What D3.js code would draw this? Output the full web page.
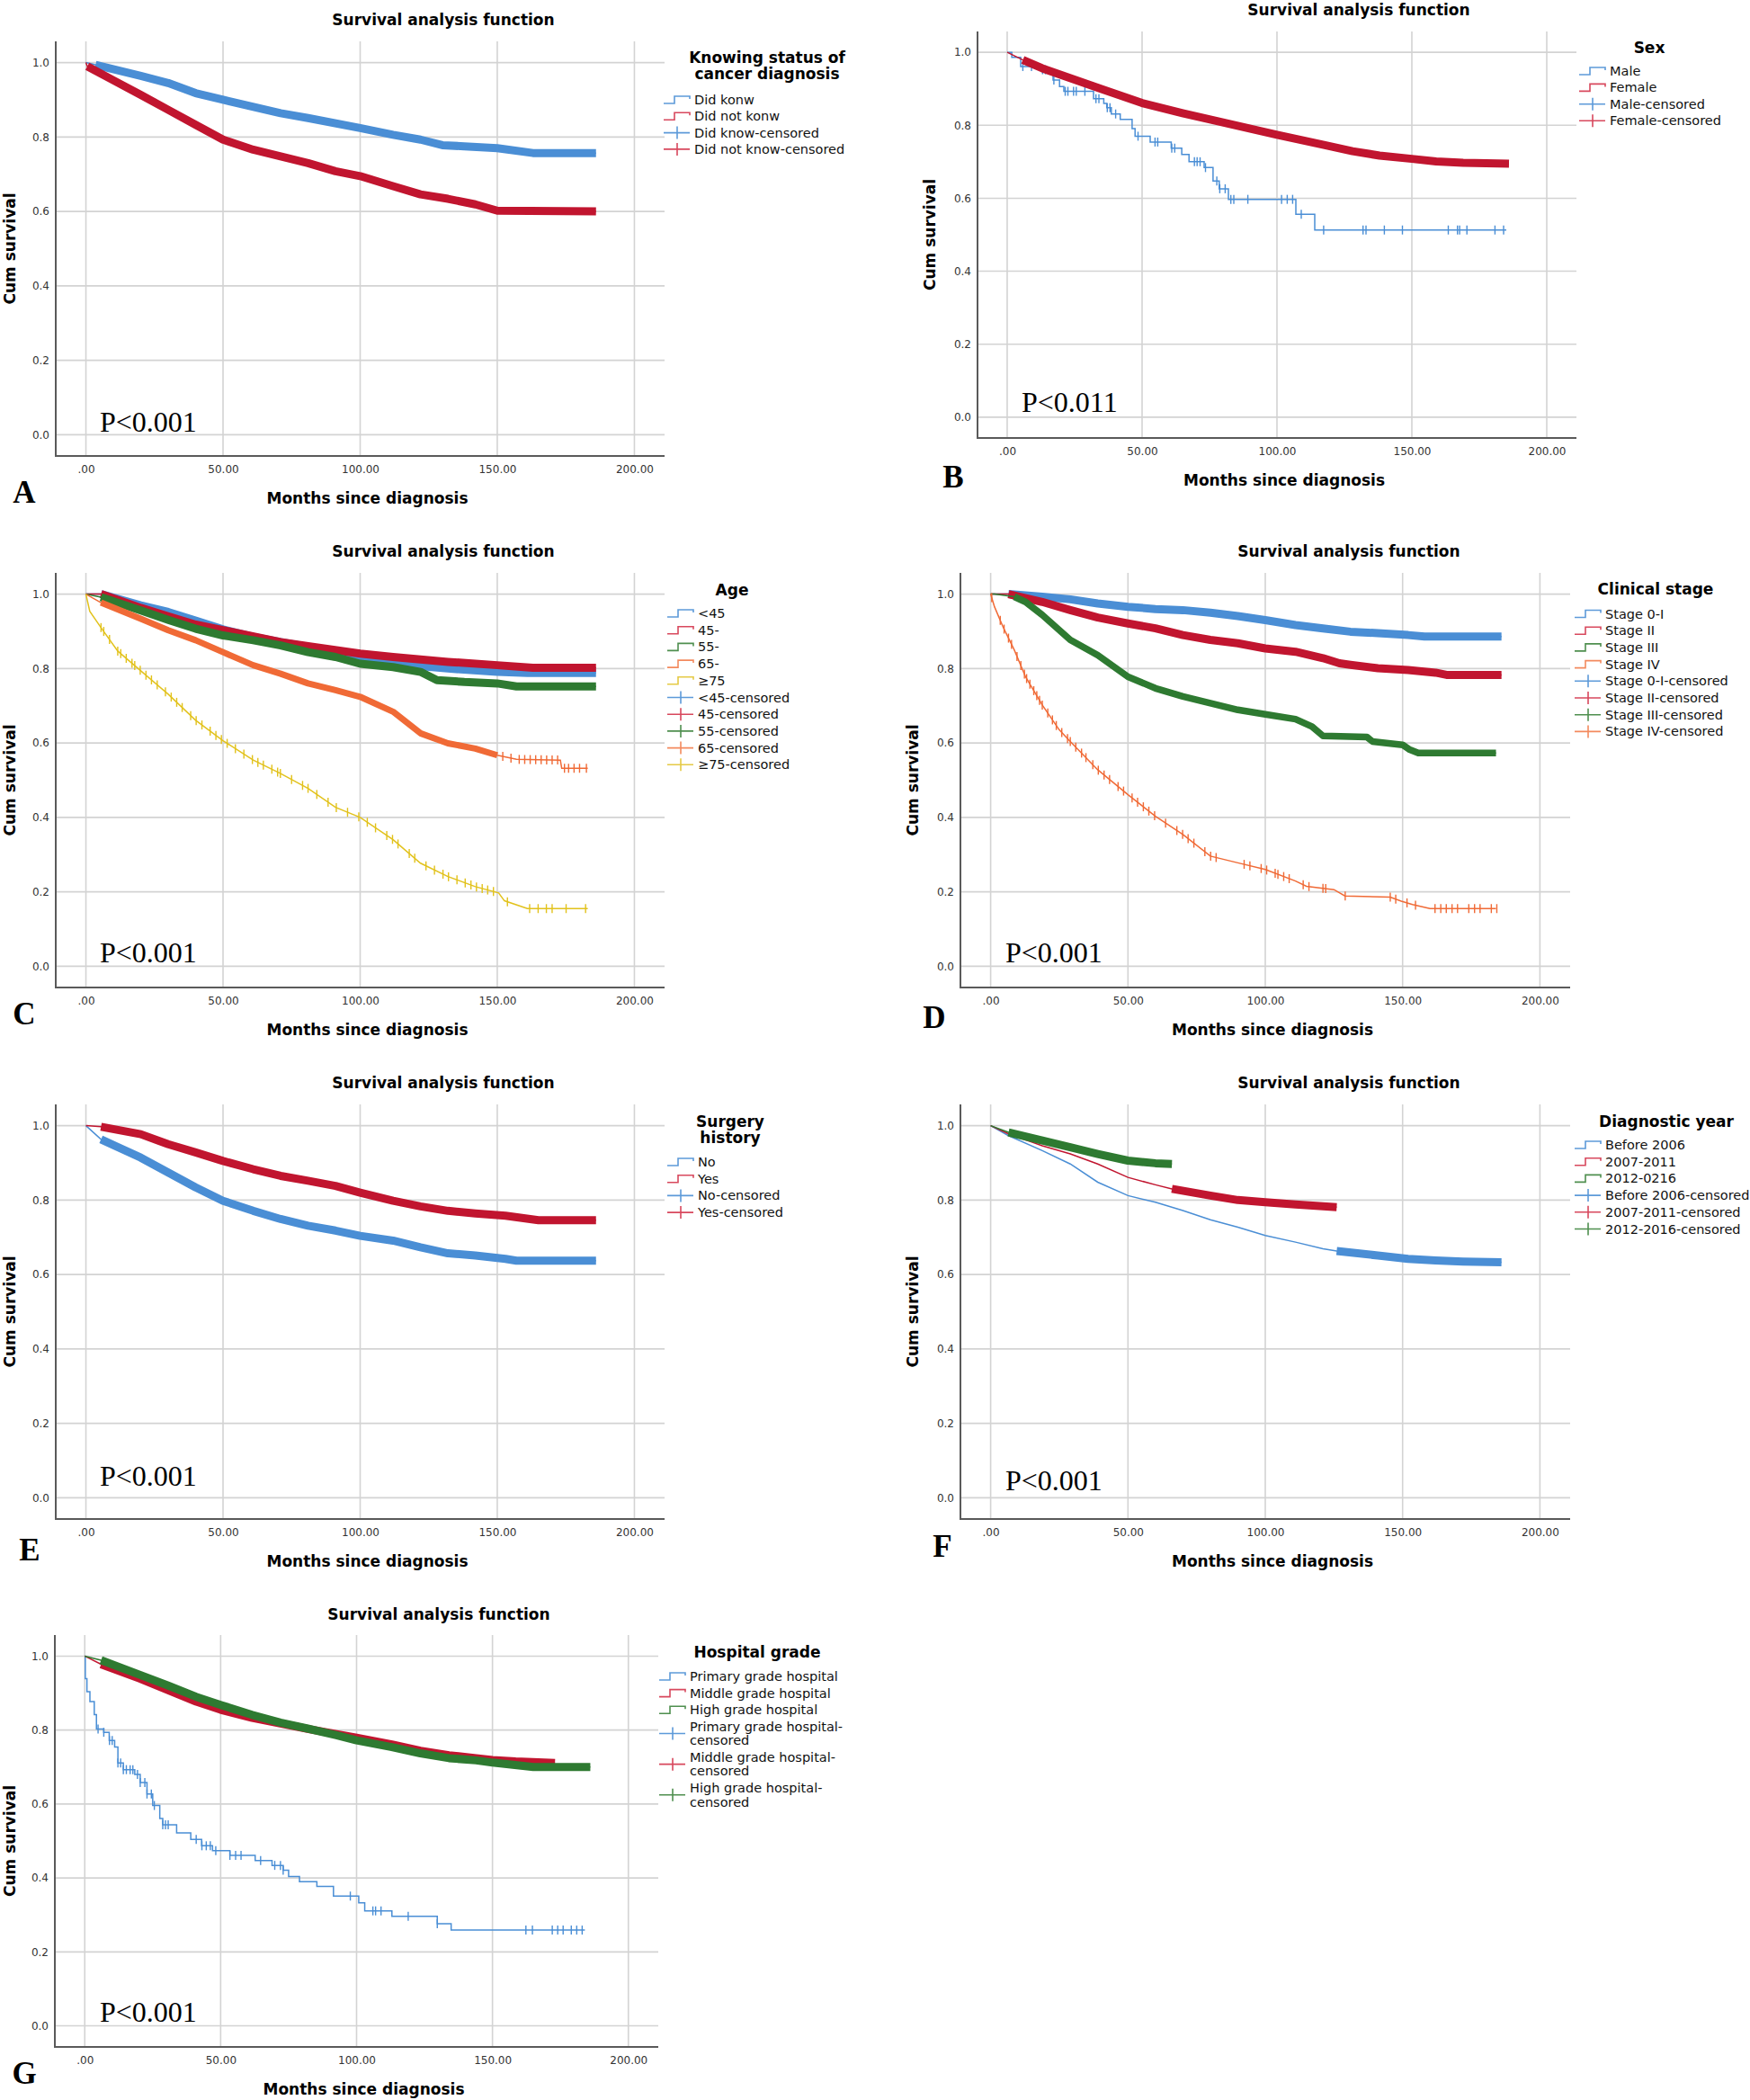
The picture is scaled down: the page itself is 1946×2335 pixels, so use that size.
<!DOCTYPE html>
<html><head><meta charset="utf-8">
<script src="https://cdn.jsdelivr.net/npm/d3@7"></script>
<style>body{margin:0;background:#fff} svg{display:block}</style>
</head><body><svg id="c" width="1946" height="2335" font-family="DejaVu Sans, sans-serif"></svg>
<script>
// ---------- ticks ----------
const xTickValues = [0, 50, 100, 150, 200];
const xTickLabels = [".00", "50.00", "100.00", "150.00", "200.00"];
const yTickValues = [0, 0.2, 0.4, 0.6, 0.8, 1.0];
const yTickLabels = ["0.0", "0.2", "0.4", "0.6", "0.8", "1.0"];

// ---------- panel A : knowing status ----------
const A_didKnow = [[0,1],[3.5,0.994],[20,0.964],[30,0.945],[40,0.918],[50,0.9],[71,0.864],[81,0.851],[100,0.824],[112,0.806],[122,0.793],[130,0.778],[138,0.775],[150,0.77],[163,0.757],[186,0.757]];
const A_didNotKnow = [[0,1],[0.5,0.99],[9.6,0.954],[20,0.913],[30,0.873],[40,0.833],[50,0.793],[61,0.766],[71,0.748],[81,0.73],[91,0.708],[100,0.695],[112,0.668],[122,0.646],[132,0.634],[142,0.619],[150,0.602],[186,0.6]];
const A_legend = ["Did konw", "Did not konw", "Did know-censored", "Did not know-censored"];

// ---------- panel B : sex ----------
const B_male = [[0,1],[1.7,0.986],[5,0.961],[13,0.952],[17,0.924],[19.4,0.906],[21,0.893],[32,0.873],[35.8,0.86],[36.9,0.848],[38.6,0.831],[41.9,0.816],[46.3,0.791],[47.4,0.77],[53,0.754],[60.8,0.737],[64.7,0.72],[67.4,0.70],[73,0.684],[76.3,0.647],[78.6,0.626],[82,0.597],[107,0.556],[114,0.513],[185,0.513]];
const B_maleCensor = [5.8,9,13.1,14.2,17.3,21.5,22.5,24.6,25.6,28.8,32.9,34,37.1,38.1,40.2,48.5,54.8,55.8,61,62.1,69.4,70.4,71.5,73.5,77.7,78.8,80.8,82.9,84,89.2,101.7,103.8,105.8,109,117.3,131.9,133,139.8,146.5,163.5,166.9,167.7,170.4,180.8,184];
const B_female = [[0,1],[5.8,0.979],[13,0.956],[23.5,0.929],[34,0.902],[50,0.861],[65,0.833],[75.6,0.815],[100,0.774],[117,0.747],[128,0.729],[138,0.717],[150,0.708],[159,0.701],[169,0.697],[186,0.695]];
const B_legend = ["Male", "Female", "Male-censored", "Female-censored"];

// ---------- panel C : age ----------
const C_lt45 = [[0,1],[5.5,1.0],[20,0.970],[30,0.952],[40,0.929],[50,0.905],[61,0.885],[71,0.871],[81,0.858],[100,0.831],[112,0.813],[132,0.8],[150,0.791],[161,0.788],[186,0.788]];
const C_45 = [[0,1],[5.5,1.0],[20,0.963],[30,0.94],[40,0.918],[50,0.903],[71,0.871],[81,0.86],[100,0.84],[112,0.831],[132,0.818],[150,0.809],[163,0.802],[186,0.802]];
const C_55 = [[0,1],[5.5,0.992],[20,0.956],[30,0.931],[40,0.907],[50,0.889],[61,0.876],[71,0.862],[81,0.844],[91,0.831],[100,0.813],[112,0.804],[122,0.791],[128,0.769],[138,0.764],[150,0.76],[157,0.752],[186,0.752]];
const C_65 = [[0,1],[5.5,0.977],[20,0.934],[30,0.903],[40,0.876],[50,0.844],[61,0.809],[71,0.786],[81,0.76],[91,0.742],[100,0.724],[112,0.684],[122,0.626],[132,0.599],[142,0.585],[150,0.567],[157,0.556],[173,0.554],[173.5,0.532],[183,0.532]];
const C_65TailCensor = [152,155,158,160,162,164,166,168,170,172,174.5,176,178,180,182.5];
const C_ge75 = [[0,1],[1.4,0.954],[5.5,0.91],[11.6,0.847],[20,0.794],[30,0.731],[40,0.661],[50,0.606],[61,0.554],[71,0.518],[81,0.478],[91,0.427],[100,0.4],[112,0.34],[122,0.277],[132,0.241],[142,0.214],[150.5,0.197],[152.6,0.176],[161,0.155],[183,0.155]];
const C_ge75Censor = [5.5,6.5,8.6,11.6,12.7,14.7,16.8,17.8,19.8,21.9,23.9,26,29,31.1,33.1,35.1,38.2,40.2,42.3,45.3,47.4,49.4,51.5,54.5,57.6,60.7,62.7,64.7,67.8,69.9,70.9,75,79,81,84.2,88.3,91.3,95.4,99.5,102.6,105.6,109.7,111.8,113.8,117.9,119.9,124,127.1,130.2,132.2,135.3,138.3,140.4,142.4,144.5,146.5,148.6,153.7,161.8,164.9,167.9,170,175.1,182.2];
const C_legend = ["<45", "45-", "55-", "65-", "\u226575", "<45-censored", "45-censored", "55-censored", "65-censored", "\u226575-censored"];

// ---------- panel D : clinical stage ----------
const D_s1 = [[0,1],[6.5,1.0],[18.8,0.993],[29,0.986],[39,0.975],[50,0.966],[60,0.96],[70,0.957],[80,0.95],[90,0.941],[100,0.93],[111,0.917],[121,0.908],[131,0.899],[141,0.895],[152,0.89],[158,0.886],[186,0.886]];
const D_s2 = [[0,1],[6.5,1.0],[18.8,0.979],[29,0.957],[39,0.937],[50,0.921],[60,0.908],[70,0.89],[80,0.877],[90,0.868],[100,0.854],[111,0.845],[121,0.828],[127,0.814],[131,0.81],[141,0.801],[152,0.796],[162,0.789],[166,0.783],[186,0.783]];
const D_s3 = [[0,1],[1.4,1.0],[8.6,0.993],[12.7,0.979],[18.8,0.944],[29,0.877],[39,0.836],[50,0.778],[60,0.747],[70,0.725],[80,0.707],[90,0.689],[100,0.677],[111,0.664],[117,0.644],[121,0.619],[137,0.616],[139,0.604],[150,0.595],[152.6,0.582],[155.7,0.573],[184,0.573]];
const D_s4 = [[0,1],[1.4,0.966],[4.5,0.912],[8.6,0.85],[12.7,0.778],[18.8,0.702],[25,0.635],[29,0.604],[39,0.528],[50,0.461],[60,0.403],[70,0.354],[80,0.296],[90,0.278],[100,0.26],[111,0.229],[115,0.215],[125,0.206],[129,0.189],[145.5,0.186],[149.5,0.175],[153.6,0.166],[160,0.155],[184,0.155]];
const D_s4Censor = [0.4,3.5,4.9,6.5,7.6,9.6,11,12.3,13.1,14.3,15.7,16.8,17.8,18.8,20.8,22.5,23.9,25.9,28,29,31,33.1,34.7,37.2,39.2,41.3,43.3,46.4,48.4,51.5,53.5,55.6,57.6,59.7,63.7,67.8,69.9,71.9,74,78,80.1,82.1,92.3,94.4,98.5,100.5,103.6,104.6,106.7,108.7,113.8,115.9,121,122,129.1,145.5,147.5,151.6,154.7,161.8,163.9,165.9,168,170,174.1,176.2,178.2,182.3,184.3];
const D_legend = ["Stage 0-I", "Stage II", "Stage III", "Stage IV", "Stage 0-I-censored", "Stage II-censored", "Stage III-censored", "Stage IV-censored"];

// ---------- panel E : surgery ----------
const E_no = [[0,1],[5.5,0.963],[20,0.914],[30,0.874],[40,0.834],[50,0.798],[61,0.771],[71,0.749],[81,0.731],[91,0.718],[100,0.704],[112,0.691],[122,0.673],[132,0.657],[142,0.651],[153,0.642],[157,0.637],[186,0.637]];
const E_yes = [[0,1],[5.5,0.997],[20,0.977],[30,0.95],[40,0.928],[50,0.905],[61,0.883],[71,0.865],[81,0.852],[91,0.838],[100,0.82],[112,0.798],[122,0.783],[132,0.771],[142,0.764],[153,0.758],[165,0.746],[186,0.746]];
const E_legend = ["No", "Yes", "No-censored", "Yes-censored"];

// ---------- panel F : diagnostic year ----------
const F_before2006 = [[0,1],[6.5,0.973],[18.8,0.933],[29,0.897],[39,0.848],[50,0.812],[60,0.794],[70,0.772],[80,0.747],[90,0.727],[100,0.705],[111,0.687],[121,0.669],[126,0.663],[141,0.651],[152,0.642],[162,0.638],[172,0.635],[186,0.633]];
const F_2007_2011 = [[0,1],[6.5,0.978],[18.8,0.946],[29,0.924],[39,0.897],[50,0.861],[60,0.841],[66,0.83],[80,0.812],[90,0.8],[100,0.794],[111,0.788],[126,0.781]];
const F_2012_2016 = [[0,1],[6.5,0.982],[18.8,0.96],[29,0.942],[39,0.924],[50,0.906],[60,0.899],[66,0.897]];
const F_legend = ["Before 2006", "2007-2011", "2012-0216", "Before 2006-censored", "2007-2011-censored", "2012-2016-censored"];

// ---------- panel G : hospital grade ----------
const G_primary = [[0,1],[0.2,0.939],[0.8,0.904],[1.9,0.877],[3.5,0.842],[4.3,0.803],[7,0.794],[9,0.772],[11,0.754],[12.2,0.711],[14.2,0.693],[18.4,0.68],[20.4,0.658],[22.9,0.627],[25,0.596],[27.6,0.561],[28.7,0.544],[33.8,0.522],[39,0.504],[43,0.487],[47,0.474],[53.4,0.461],[62.7,0.447],[68.9,0.434],[73,0.421],[75,0.404],[79,0.39],[85.4,0.377],[91.5,0.351],[100.8,0.333],[103,0.311],[113,0.296],[129.7,0.276],[134.8,0.259],[184,0.259]];
const G_primaryCensor = [4.9,7,9.1,10.1,12.2,13.2,14.2,15.3,16.7,17.7,19.4,20.4,22.1,22.9,24.5,25.6,28.7,29.7,30.7,41,43.1,44.7,46.2,48.2,53.4,55.5,57.5,64.7,69.9,72,73,97.7,106,107,109,119,129.7,162.3,164.7,172,174,176,179,181,183];
const G_middle = [[0,1],[6,0.978],[20.4,0.939],[30.7,0.908],[41,0.877],[50,0.855],[61.6,0.833],[72,0.818],[82,0.803],[92.6,0.789],[100,0.779],[113,0.761],[123.5,0.744],[134,0.732],[144,0.724],[150,0.719],[158.5,0.715],[173,0.711]];
const G_high = [[0,1],[6,0.989],[20.4,0.949],[30.7,0.92],[41,0.89],[50,0.868],[61.6,0.841],[72,0.82],[82,0.804],[92.6,0.786],[100,0.772],[113,0.754],[123.5,0.737],[134,0.724],[144,0.718],[150,0.712],[165,0.7],[186,0.7]];
const G_legend = ["Primary grade hospital", "Middle grade hospital", "High grade hospital", "Primary grade hospital-\ncensored", "Middle grade hospital-\ncensored", "High grade hospital-\ncensored"];

// ---------- styles ----------
const COL = {blue:"#4a8ed5", red:"#c1152f", green:"#2e7a31", orange:"#f06a36", yellow:"#e2c21c"};
const ICON = {blue:"#5d9ad9", red:"#d8485d", green:"#4f8f4f", orange:"#f38a5e", yellow:"#e5ca45"};
const SERIF = "Liberation Serif, Times New Roman, serif";

const panels = [
  {letter:"A", frame:{l:62,r:739,t:46,b:507}, title:{x:493,y:22}, legTitle:["Knowing status of","cancer diagnosis"],
   leg:{tx:853, ty:64, sx:738, y0:111, dy:18.3}, labels:A_legend, p:"P<0.001", pPos:{x:111,y:480}, lPos:{x:27,y:559},
   series:[{d:A_didKnow,c:"blue",band:3.5},{d:A_didNotKnow,c:"red",band:0.5}]},
  {letter:"B", frame:{l:1087,r:1753,t:35,b:487}, title:{x:1511,y:11}, legTitle:["Sex"],
   leg:{tx:1834, ty:53, sx:1756, y0:79, dy:18.4}, labels:B_legend, p:"P<0.011", pPos:{x:1136,y:458}, lPos:{x:1060,y:542},
   series:[{d:B_male,c:"blue",step:true,censor:B_maleCensor},{d:B_female,c:"red",band:5.8}]},
  {letter:"C", frame:{l:62,r:739,t:637,b:1098}, title:{x:493,y:613}, legTitle:["Age"],
   leg:{tx:814, ty:656, sx:742, y0:682, dy:18.7}, labels:C_legend, p:"P<0.001", pPos:{x:111,y:1070}, lPos:{x:27,y:1139},
   series:[{d:C_lt45,c:"blue",band:5.5},{d:C_45,c:"red",band:5.5},{d:C_55,c:"green",band:5.5},
           {d:C_65,c:"orange",band:5.5,bandEnd:150,bw:7,censor:C_65TailCensor},
           {d:C_ge75,c:"yellow",censor:C_ge75Censor}]},
  {letter:"D", frame:{l:1068,r:1746,t:637,b:1098}, title:{x:1500,y:613}, legTitle:["Clinical stage"],
   leg:{tx:1841, ty:655, sx:1751, y0:682.5, dy:18.7}, labels:D_legend, p:"P<0.001", pPos:{x:1118,y:1070}, lPos:{x:1039,y:1143},
   series:[{d:D_s1,c:"blue",band:6.5},{d:D_s2,c:"red",band:6.5},{d:D_s3,c:"green",band:8.6,bw:7.5},
           {d:D_s4,c:"orange",censor:D_s4Censor}]},
  {letter:"E", frame:{l:62,r:739,t:1228,b:1689}, title:{x:493,y:1204}, legTitle:["Surgery","history"],
   leg:{tx:812, ty:1247, sx:742, y0:1292, dy:18.7}, labels:E_legend, p:"P<0.001", pPos:{x:111,y:1652}, lPos:{x:33,y:1735},
   series:[{d:E_no,c:"blue",band:5.5},{d:E_yes,c:"red",band:5.5}]},
  {letter:"F", frame:{l:1068,r:1746,t:1228,b:1689}, title:{x:1500,y:1204}, legTitle:["Diagnostic year"],
   leg:{tx:1853, ty:1247, sx:1751, y0:1273, dy:18.7}, labels:F_legend, p:"P<0.001", pPos:{x:1118,y:1657}, lPos:{x:1048,y:1731},
   series:[{d:F_before2006,c:"blue",band:126},{d:F_2007_2011,c:"red",band:66},{d:F_2012_2016,c:"green",band:6.5}]},
  {letter:"G", frame:{l:61,r:732,t:1818,b:2276}, title:{x:488,y:1795}, legTitle:["Hospital grade"],
   leg:{tx:842, ty:1837, sx:733, y0:1864, dy:18.6}, labels:G_legend, p:"P<0.001", pPos:{x:111,y:2248}, lPos:{x:27,y:2317},
   series:[{d:G_primary,c:"blue",step:true,censor:G_primaryCensor},{d:G_middle,c:"red",band:6},{d:G_high,c:"green",band:6}]}
];

const svg = d3.select("#c");
svg.append("rect").attr("width",1946).attr("height",2335).attr("fill","#fff");

// value of the drawn curve at time t (step or linear, matching how the line is drawn)
function valueAt(data, t, step){
  if (step) {
    let v = data[0][1];
    for (const k of data){ if (k[0] <= t) v = k[1]; else break; }
    return v;
  }
  for (let i = 1; i < data.length; i++) {
    const a = data[i-1], b = data[i];
    if (t <= b[0]) {
      const f = b[0] === a[0] ? 1 : (t - a[0]) / (b[0] - a[0]);
      return a[1] + f * (b[1] - a[1]);
    }
  }
  return data[data.length-1][1];
}

panels.forEach(p => {
  const f = p.frame;
  const g = svg.append("g");
  const x = d3.scaleLinear().domain([-11, 211]).range([f.l, f.r]);
  const y = d3.scaleLinear().domain([-0.057, 1.057]).range([f.b, f.t]);

  // grid
  g.append("g").selectAll("line").data(yTickValues).join("line")
    .attr("x1", f.l).attr("x2", f.r).attr("y1", d => y(d)).attr("y2", d => y(d))
    .attr("stroke", "#d3d3d3").attr("stroke-width", 1.6);
  g.append("g").selectAll("line").data(xTickValues).join("line")
    .attr("y1", f.t).attr("y2", f.b).attr("x1", d => x(d)).attr("x2", d => x(d))
    .attr("stroke", "#d3d3d3").attr("stroke-width", 1.6);

  // axes labels
  const xa = g.append("g").attr("transform", `translate(0,${f.b})`)
    .call(d3.axisBottom(x).tickValues(xTickValues).tickFormat((d,i) => xTickLabels[i]).tickSize(0).tickPadding(10));
  const ya = g.append("g").attr("transform", `translate(${f.l},0)`)
    .call(d3.axisLeft(y).tickValues(yTickValues).tickFormat((d,i) => yTickLabels[i]).tickSize(0).tickPadding(7));
  [xa, ya].forEach(a => {
    a.select(".domain").remove();
    a.attr("font-family", null).attr("font-size", null);
    a.selectAll("text").attr("font-size", 12).attr("fill", "#333");
  });
  // axis lines
  g.append("line").attr("x1", f.l).attr("x2", f.l).attr("y1", f.t).attr("y2", f.b + 1).attr("stroke", "#5a5a5a").attr("stroke-width", 2);
  g.append("line").attr("x1", f.l).attr("x2", f.r).attr("y1", f.b).attr("y2", f.b).attr("stroke", "#5a5a5a").attr("stroke-width", 2);

  // curves
  p.series.forEach(s => {
    const col = COL[s.c];
    const line = d3.line().x(d => x(d[0])).y(d => y(d[1])).curve(s.step ? d3.curveStepAfter : d3.curveLinear);
    g.append("path").datum(s.d).attr("d", line).attr("fill", "none").attr("stroke", col).attr("stroke-width", 1.5);
    if (s.band != null) {
      const sub = s.d.filter(k => k[0] >= s.band && (s.bandEnd == null || k[0] <= s.bandEnd));
      g.append("path").datum(sub).attr("d", d3.line().x(d => x(d[0])).y(d => y(d[1])))
        .attr("fill", "none").attr("stroke", col).attr("stroke-width", s.bw || 9)
        .attr("stroke-linejoin", "round").attr("stroke-linecap", "butt");
    }
    if (s.censor) {
      g.append("g").selectAll("line").data(s.censor).join("line")
        .attr("x1", d => x(d)).attr("x2", d => x(d))
        .attr("y1", d => y(valueAt(s.d, d, s.step)) - 5).attr("y2", d => y(valueAt(s.d, d, s.step)) + 5)
        .attr("stroke", col).attr("stroke-width", 1.4);
    }
  });

  // titles
  g.append("text").attr("x", p.title.x).attr("y", p.title.y).attr("dy", "0.35em").attr("text-anchor", "middle")
    .attr("font-size", 17).attr("font-weight", "bold").text("Survival analysis function");
  g.append("text").attr("x", (f.l + f.r) / 2 + 8).attr("y", f.b + 47).attr("dy", "0.35em").attr("text-anchor", "middle")
    .attr("font-size", 17).attr("font-weight", "bold").text("Months since diagnosis");
  g.append("text").attr("transform", `translate(${Math.max(f.l - 53, 11)},${(f.t + f.b) / 2}) rotate(-90)`).attr("dy", "0.35em")
    .attr("text-anchor", "middle").attr("font-size", 17).attr("font-weight", "bold").text("Cum survival");
  g.append("text").attr("x", p.pPos.x).attr("y", p.pPos.y).attr("font-family", SERIF)
    .attr("font-size", 32).text(p.p);
  g.append("text").attr("x", p.lPos.x).attr("y", p.lPos.y).attr("text-anchor", "middle")
    .attr("font-family", SERIF).attr("font-weight", "bold").attr("font-size", 35).text(p.letter);

  // legend
  const L = p.leg;
  p.legTitle.forEach((t, i) => {
    g.append("text").attr("x", L.tx).attr("y", L.ty + i * 18.5).attr("dy", "0.35em").attr("text-anchor", "middle")
      .attr("font-size", 17).attr("font-weight", "bold").text(t);
  });
  const nSteps = p.series.length;
  let yy = L.y0;
  p.labels.forEach((lab, i) => {
    const lines = lab.split("\n");
    const s = p.series[i % nSteps];
    const ic = ICON[s.c];
    const sy = yy + (lines.length - 1) * 15.5 / 2;
    if (i < nSteps) {
      g.append("path").attr("d", `M${L.sx},${sy + 4}H${L.sx + 12}V${sy - 4}H${L.sx + 29}V${sy - 1}`)
        .attr("fill", "none").attr("stroke", ic).attr("stroke-width", 1.6);
    } else {
      g.append("path").attr("d", `M${L.sx},${sy}H${L.sx + 29}M${L.sx + 15},${sy - 7}V${sy + 7}`)
        .attr("fill", "none").attr("stroke", ic).attr("stroke-width", 1.6);
    }
    const tx = g.append("text").attr("x", L.sx + 34).attr("y", yy).attr("font-size", 14.5).attr("fill", "#111");
    lines.forEach((ln, j) => {
      tx.append("tspan").attr("x", L.sx + 34).attr("y", yy + j * 15.5).attr("dy", "0.35em").text(ln);
    });
    yy += (lines.length - 1) * 15.5 + L.dy;
  });
});
</script>
</body></html>
